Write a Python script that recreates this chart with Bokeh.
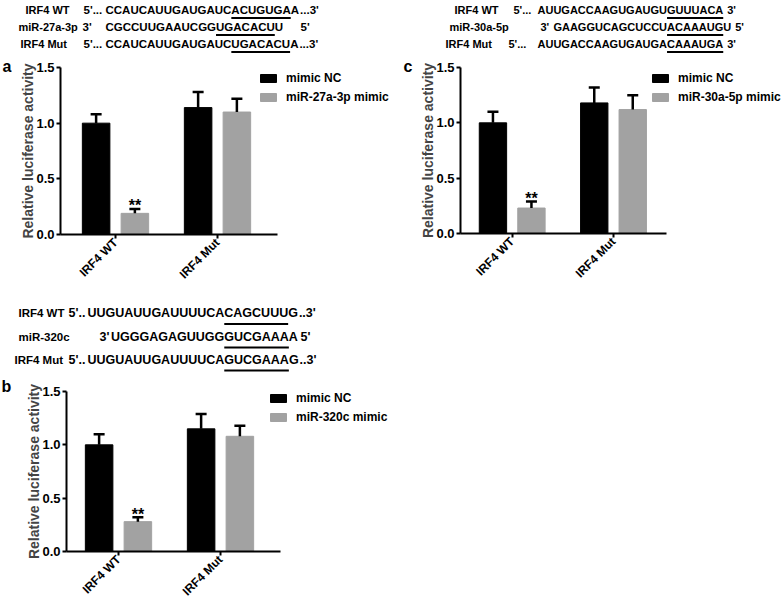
import math
import numpy as np
from bokeh.plotting import figure
from bokeh.models import (Range1d, FixedTicker, NumeralTickFormatter, Legend, LegendItem,
                          Whisker, TeeHead, ColumnDataSource)
from bokeh.layouts import row, column
from bokeh.core.properties import value
from bokeh.embed import file_html
from bokeh.resources import INLINE

# ---------------- data ----------------
groups = ["IRF4 WT", "IRF4 Mut"]
nc_label = "mimic NC"
y_ticks = [0.0, 0.5, 1.0, 1.5]
y_title = "Relative luciferase activity"
signif = ["**", ""]

a_mimic_label = "miR-27a-3p mimic"
a_nc = [1.00, 1.14]
a_nc_err = [0.08, 0.14]
a_mimic = [0.19, 1.10]
a_mimic_err = [0.04, 0.12]

b_mimic_label = "miR-320c mimic"
b_nc = [1.00, 1.15]
b_nc_err = [0.10, 0.14]
b_mimic = [0.28, 1.08]
b_mimic_err = [0.04, 0.10]

c_mimic_label = "miR-30a-5p mimic"
c_nc = [1.00, 1.18]
c_nc_err = [0.10, 0.14]
c_mimic = [0.23, 1.12]
c_mimic_err = [0.06, 0.13]

a_seq_names = ["IRF4 WT", "miR-27a-3p", "IRF4 Mut"]
a_seq_left = ["5'...", "3'", "5'..."]
a_seq_core = ["CCAUCAUUGAUGAUCACUGUGAA", "CGCCUUGAAUCGGUGACACUU", "CCAUCAUUGAUGAUCUGACACUA"]
a_seq_right = ["...3'", "5'", "...3'"]
a_seq_site = [(15, 22), (13, 20), (15, 22)]

b_seq_names = ["IRF4 WT", "miR-320c", "IRF4 Mut"]
b_seq_left = ["5'..", "3'", "5'.."]
b_seq_core = ["UUGUAUUGAUUUUCACAGCUUUG", "UGGGAGAGUUGGGUCGAAAA", "UUGUAUUGAUUUUCAGUCGAAAG"]
b_seq_right = ["..3'", "5'", "..3'"]
b_seq_site = [(15, 22), (12, 19), (15, 22)]

c_seq_names = ["IRF4 WT", "miR-30a-5p", "IRF4 Mut"]
c_seq_left = ["5'...", "3'", "5'..."]
c_seq_core = ["AUUGACCAAGUGAUGUGUUUACA", "GAAGGUCAGCUCCUACAAAUGU", "AUUGACCAAGUGAUGACAAAUGA"]
c_seq_right = ["3'", "5'", "3'"]
c_seq_site = [(16, 23), (14, 21), (16, 23)]

letters = ["a", "b", "c"]

# ---------------- helpers ----------------
FONT = "Liberation Sans"
CW = {"A": 0.722, "C": 0.722, "G": 0.778, "U": 0.722, ".": 0.278, "'": 0.238, " ": 0.278}
GRAY = "#a2a2a2"
H = 606


def tw(s, fs):
    return sum(CW.get(ch, 0.556) for ch in s) * fs


def base_fig(**kw):
    p = figure(toolbar_location=None, output_backend="svg", outline_line_color=None, **kw)
    p.frame_align = False
    p.grid.visible = False
    return p


def canvas_fig(box):
    x0, x1, y0, y1 = box
    return base_fig(width=x1 - x0, height=y1 - y0, x_range=Range1d(x0, x1), y_range=Range1d(y1, y0),
                    min_border=0, x_axis_location=None, y_axis_location=None)


def letter_strip(box, items):
    p = canvas_fig(box)
    p.text(x=[it[1] for it in items], y=[it[2] for it in items], text=[it[0] for it in items],
           text_font=value(FONT), text_font_style="bold", text_font_size="16px",
           text_baseline="alphabetic", text_align="left", text_color="black")
    return p


def seq_panel(box, ys, name_x, left_x, core_x, right_x, names, lefts, cores, rights, sites,
              fs, name_fs, ul_dy, right_gap=1):
    p = canvas_fig(box)
    tx, ty, tt = [], [], []
    ux0, ux1, uy = [], [], []
    for i in range(len(names)):
        rx = right_x[i] if right_x[i] is not None else core_x[i] + tw(cores[i], fs) + right_gap
        tx += [left_x[i], core_x[i], rx]
        ty += [ys[i]] * 3
        tt += [lefts[i], cores[i], rights[i]]
        s0, s1 = sites[i]
        ux0.append(core_x[i] + tw(cores[i][:s0], fs))
        ux1.append(core_x[i] + tw(cores[i][:s1], fs))
        uy.append(ys[i] + ul_dy)
    p.text(x=name_x, y=ys, text=names, text_font=value(FONT), text_font_style="bold",
           text_font_size=f"{name_fs}px", text_baseline="middle", text_align="left", text_color="black")
    p.text(x=tx, y=ty, text=tt, text_font=value(FONT), text_font_style="bold",
           text_font_size=f"{fs}px", text_baseline="middle", text_align="left", text_color="black")
    p.segment(x0=ux0, y0=uy, x1=ux1, y1=uy, line_color="black", line_width=1.8)
    return p


def chart_panel(box, frame, tick1, ppu, axis_end, nc, nc_err, mimic, mimic_err, mimic_label,
                legend_xy, dodge=0.19, bw=0.27):
    x0, x1, y0, y1 = box
    fl, ft, fb = frame
    xr = Range1d(1 - (tick1 - fl) / ppu, 1 + (x1 - tick1) / ppu)
    p = base_fig(width=x1 - x0, height=y1 - y0, x_range=xr, y_range=Range1d(0, 1.5),
                 min_border_left=round(fl - x0), min_border_right=0, min_border_top=round(ft - y0),
                 min_border_bottom=round(y1 - fb))
    pos = np.arange(1, len(groups) + 1, dtype=float)
    src_nc = ColumnDataSource(dict(x=pos - dodge, top=nc, upper=np.add(nc, nc_err)))
    src_mi = ColumnDataSource(dict(x=pos + dodge, top=mimic, upper=np.add(mimic, mimic_err), sig=signif))
    r1 = p.vbar(x="x", top="top", width=bw, source=src_nc, fill_color="black", line_color="black")
    r2 = p.vbar(x="x", top="top", width=bw, source=src_mi, fill_color=GRAY, line_color=GRAY)
    for s in (src_nc, src_mi):
        p.add_layout(Whisker(source=s, base="x", lower="top", upper="upper", dimension="height",
                             line_color="black", line_width=2.5, level="overlay",
                             upper_head=TeeHead(size=11, line_color="black", line_width=2.5),
                             lower_head=None))
    p.text(x="x", y="upper", text="sig", source=src_mi, text_align="center",
           text_baseline="alphabetic", y_offset=-3, text_font=value(FONT), text_font_style="bold",
           text_font_size="16px", text_color="black")

    xa = p.xaxis[0]
    xa.ticker = FixedTicker(ticks=list(pos))
    xa.major_label_overrides = {i + 1: g for i, g in enumerate(groups)}
    xa.major_label_orientation = math.pi / 4
    xa.bounds = (xr.start, 1 + (axis_end - tick1) / ppu)
    ya = p.yaxis[0]
    ya.ticker = FixedTicker(ticks=y_ticks)
    ya.formatter = NumeralTickFormatter(format="0.0")
    ya.axis_label = y_title
    ya.axis_label_text_font = FONT
    ya.axis_label_text_font_style = "bold"
    ya.axis_label_text_font_size = "14px"
    ya.axis_label_standoff = -3
    for ax in (xa, ya):
        ax.axis_line_width = 2
        ax.axis_line_color = "black"
        ax.major_tick_line_width = 2
        ax.major_tick_line_color = "black"
        ax.major_tick_in = 0
        ax.major_tick_out = 4
        ax.minor_tick_line_color = None
        ax.major_label_text_font = FONT
        ax.major_label_text_font_style = "bold"
        ax.major_label_text_color = "black"
        ax.major_label_standoff = 2
    xa.major_label_text_font_size = "12px"
    ya.major_label_text_font_size = "13px"

    lx, ly = legend_xy
    leg = Legend(items=[LegendItem(label=nc_label, renderers=[r1]),
                        LegendItem(label=mimic_label, renderers=[r2])],
                 location=(lx - fl, fb - ly), orientation="vertical",
                 glyph_width=20, glyph_height=10, label_height=10, spacing=5,
                 label_standoff=8, padding=0, margin=0, border_line_color=None,
                 background_fill_alpha=0, label_text_font=FONT, label_text_font_style="bold",
                 label_text_font_size="12px", label_text_color="black")
    p.add_layout(leg)
    return p


# ---------------- letters ----------------
strip_l = letter_strip((0, 12, 0, H), [(letters[0], 2, 65.5), (letters[1], 1, 386)])
strip_r = letter_strip((400, 414, 0, 290), [(letters[2], 403, 66)])

# ---------------- panel a ----------------
seq_a = seq_panel((12, 400, 0, 58), [9.5, 26.5, 43.5], [25, 18, 20], [83, 82, 83], [105, 105, 105],
                  [None, 300, None], a_seq_names, a_seq_left, a_seq_core, a_seq_right, a_seq_site,
                  11.5, 11, 8)
chart_a = chart_panel((12, 400, 58, 290), (60, 67, 234), 115, 102, 277,
                      a_nc, a_nc_err, a_mimic, a_mimic_err, a_mimic_label, (258, 104))

# ---------------- panel b ----------------
b_fs = 12.5
b_core1 = 87
b_core2 = b_core1 + tw(b_seq_core[0][:15], b_fs) - tw(b_seq_core[1][:12], b_fs)
seq_b = seq_panel((12, 400, 290, 372), [312.5, 336, 359], [18, 18, 14], [68, 99, 68],
                  [b_core1, b_core2, b_core1], [None, 300, None],
                  b_seq_names, b_seq_left, b_seq_core, b_seq_right, b_seq_site, b_fs, 11.5, 11)
chart_b = chart_panel((12, 400, 372, H), (66, 390.7, 556.7), 118, 102, 280,
                      b_nc, b_nc_err, b_mimic, b_mimic_err, b_mimic_label, (268, 430))

# ---------------- panel c ----------------
c_fs = 11
c_core1 = 537
c_site_x = c_core1 + tw(c_seq_core[0][:c_seq_site[0][0]], c_fs)
c_core2 = c_site_x - tw(c_seq_core[1][:c_seq_site[1][0]], c_fs)
c_core3 = c_site_x - tw(c_seq_core[2][:c_seq_site[2][0]], c_fs)
seq_c = seq_panel((414, 782, 0, 58), [9.5, 26.5, 43.5], [454, 449, 445],
                  [513, c_core2 - 13, 508], [c_core1, c_core2, c_core3], [None, None, None],
                  c_seq_names, c_seq_left, c_seq_core, c_seq_right, c_seq_site,
                  c_fs, 11, 8, right_gap=4)
chart_c = chart_panel((414, 782, 58, 290), (460, 67, 233), 511.7, 101.3, 666,
                      c_nc, c_nc_err, c_mimic, c_mimic_err, c_mimic_label, (650, 104))

layout = row(strip_l, column(seq_a, chart_a, seq_b, chart_b), strip_r, column(seq_c, chart_c))
open("out.html", "w").write(file_html(layout, INLINE))
